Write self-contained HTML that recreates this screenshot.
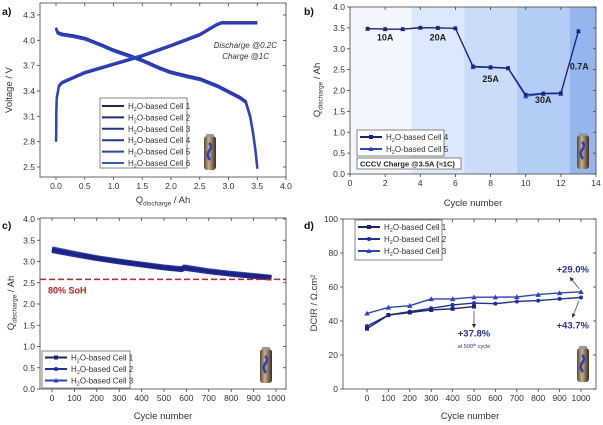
<!DOCTYPE html>
<html><head><meta charset="utf-8"><style>
html,body{margin:0;padding:0;background:#fff}
svg{display:block;font-family:"Liberation Sans",sans-serif}
</style></head><body>
<svg id="fig" width="603" height="425" viewBox="0 0 603 425" xmlns="http://www.w3.org/2000/svg">
<defs>
<linearGradient id="bat" x1="0" x2="1" y1="0" y2="0"><stop offset="0" stop-color="#5a4630"/><stop offset="0.4" stop-color="#c8b089"/><stop offset="1" stop-color="#3c2e20"/></linearGradient>
<marker id="arr" markerWidth="6" markerHeight="6" refX="3" refY="3" orient="auto"><path d="M0,0 L6,3 L0,6 z" fill="#333"/></marker>
</defs>
<g id="root"></g>
</svg>
<script>
// ---- Panel a data ----
const aDisQ=[0,0.03,0.1,0.3,0.5,0.8,1.0,1.3,1.5,1.8,2.0,2.3,2.5,2.8,3.0,3.2,3.3,3.38,3.43,3.47,3.5];
const aDisV=[4.15,4.10,4.08,4.06,4.03,3.95,3.89,3.82,3.77,3.68,3.63,3.58,3.55,3.47,3.40,3.33,3.28,3.1,2.9,2.7,2.5];
const aChQ=[0,0.01,0.05,0.1,0.3,0.5,1.0,1.5,2.0,2.5,2.8,2.88,3.5];
const aChV=[2.8,3.3,3.45,3.49,3.55,3.61,3.71,3.81,3.93,4.06,4.18,4.2,4.2];
const aXTicks=[0,0.5,1.0,1.5,2.0,2.5,3.0,3.5,4.0];
const aYTicks=[2.5,2.8,3.1,3.4,3.7,4.0,4.3];
const aLegend=["Cell 1","Cell 2","Cell 3","Cell 4","Cell 5","Cell 6"];
// ---- Panel b data ----
const bCycles=[1,2,3,4,5,6,7,8,9,10,11,12,13];
const bCell4=[3.48,3.47,3.47,3.50,3.50,3.49,2.58,2.56,2.54,1.90,1.93,1.94,3.42];
const bCell5=[3.48,3.47,3.47,3.51,3.50,3.49,2.56,2.55,2.53,1.86,1.92,1.92,3.42];
const bXTicks=[0,2,4,6,8,10,12,14];
const bYTicks=[0,0.5,1.0,1.5,2.0,2.5,3.0,3.5,4.0];
const bBands=[0,3.5,6.5,9.5,12.5,14];
const bRates=["10A","20A","25A","30A","0.7A"];
// ---- Panel c data ----
const cCycles=[0,100,200,300,400,500,580,590,700,800,900,980];
const cCell1=[3.28,3.18,3.08,3.00,2.93,2.86,2.82,2.86,2.77,2.71,2.66,2.62];
const cCell2=[3.26,3.16,3.07,2.99,2.92,2.85,2.81,2.84,2.76,2.70,2.65,2.61];
const cCell3=[3.30,3.19,3.09,3.01,2.94,2.87,2.83,2.87,2.78,2.72,2.67,2.63];
const cXTicks=[0,100,200,300,400,500,600,700,800,900,1000];
const cYTicks=[0,0.5,1.0,1.5,2.0,2.5,3.0,3.5,4.0];
const cSoH=[2.58];
// ---- Panel d data ----
const dCycles=[0,100,200,300,400,500,600,700,800,900,1000];
const dCell1=[35.5,43.5,45,46.5,47.2,48.5];
const dCell2=[37,43.5,45.5,47.5,49.5,50.5,50.2,51.5,52,53,53.8];
const dCell3=[44.5,48,49,53,53,54,54,54.2,55.5,56.5,57.2];
const dXTicks=[0,100,200,300,400,500,600,700,800,900,1000];
const dYTicks=[0,20,40,60,80,100];

const NS="http://www.w3.org/2000/svg";
const root=document.getElementById('root');
function mk(tag,attrs,parent,txt){const e=document.createElementNS(NS,tag);for(const k in attrs)e.setAttribute(k,attrs[k]);if(txt!==undefined)e.textContent=txt;(parent||root).appendChild(e);return e;}
function lin(d0,d1,r0,r1){return v=>r0+(v-d0)*(r1-r0)/(d1-d0);}
const C1="#1a237e",C2="#1c2fb0",C3="#2b42d6";

function axes(g,x,y,L,R,T,B,xt,yt,fmtx,fmty,name){
  const fr=mk('rect',{x:L,y:T,width:R-L,height:B-T,fill:'none',stroke:'#444','stroke-width':0.8},g);
  
  xt.forEach(v=>{const px=x(v);
    mk('line',{x1:px,x2:px,y1:B,y2:B+3,stroke:'#444','stroke-width':0.8},g);
    mk('line',{x1:px,x2:px,y1:T,y2:T+3,stroke:'#444','stroke-width':0.8},g);
    const t=mk('text',{x:px,y:B+12,'font-size':8.5,'text-anchor':'middle',fill:'#333'},g,fmtx(v));
    });
  yt.forEach(v=>{const py=y(v);
    mk('line',{x1:L-3,x2:L,y1:py,y2:py,stroke:'#444','stroke-width':0.8},g);
    mk('line',{x1:R,x2:R-3,y1:py,y2:py,stroke:'#444','stroke-width':0.8},g);
    const t=mk('text',{x:L-5,y:py+3,'font-size':8.5,'text-anchor':'end',fill:'#333'},g,fmty(v));
    });
}
function path(g,xs,ys,x,y,attrs,name){const d=xs.map((v,i)=>(i?'L':'M')+x(v).toFixed(1)+','+y(ys[i]).toFixed(1)).join(' ');
  const p=mk('path',Object.assign({d:d,fill:'none','stroke-linejoin':'round'},attrs),g);return p;}
function marker(g,type,px,py,col,s){
  let e;
  if(type==='sq')e=mk('rect',{x:px-s,y:py-s,width:2*s,height:2*s,fill:col},g);
  else if(type==='ci')e=mk('circle',{cx:px,cy:py,r:s,fill:col},g);
  else e=mk('path',{d:`M${px},${py-s-0.5} L${px+s+0.5},${py+s} L${px-s-0.5},${py+s} z`,fill:col},g);
  
}
function battery(g,cx,cy){
  const b=mk('g',{},g);
  mk('rect',{x:cx-6,y:cy-17,width:12,height:34,rx:3,fill:'url(#bat)'},b);
  mk('rect',{x:cx-4,y:cy-19,width:8,height:3,rx:1,fill:'#999'},b);
  mk('path',{d:`M${cx-1},${cy-10} q4,3 0,8 q-3,4 1,9`,stroke:'#2b3fc0','stroke-width':2.5,fill:'none'},b);
}
function legendItem(g,x0,y0,col,label,mtype){
  mk('line',{x1:x0,x2:x0+22,y1:y0,y2:y0,stroke:col,'stroke-width':2},g);
  if(mtype)marker(g,mtype,x0+11,y0,col,2);
  const t=mk('text',{x:x0+26,y:y0+3,'font-size':8,fill:'#333'},g);
  
  mk('tspan',{},t,'H');mk('tspan',{'font-size':5.5,dy:2},t,'2');mk('tspan',{dy:-2},t,'O-based '+label);
}
function ylab(g,x,y,main,sub,rest){
  const t=mk('text',{transform:`translate(${x},${y}) rotate(-90)`,'font-size':9.5,'text-anchor':'middle',fill:'#333'},g);
  
  mk('tspan',{},t,main);if(sub){mk('tspan',{'font-size':6.5,dy:2.5},t,sub);mk('tspan',{dy:-2.5},t,rest);}
}
function xlab(g,x,y,main,sub,rest){
  const t=mk('text',{x:x,y:y,'font-size':9.5,'text-anchor':'middle',fill:'#333'},g);
  
  mk('tspan',{},t,main);if(sub){mk('tspan',{'font-size':6.5,dy:2.5},t,sub);mk('tspan',{dy:-2.5},t,rest);}
}
function letter(g,x,y,s){const t=mk('text',{x:x,y:y,'font-size':10.5,'font-weight':'bold',fill:'#111'},g,s);}

// ===== Panel a =====
(function(){
  const g=mk('g',{});
  const L=40,R=286,T=3,B=177;
  const x=lin(0,4,56,286),y=lin(2.5,4.3,167,15);
  axes(g,x,y,L,R,T,B,aXTicks,aYTicks,v=>v.toFixed(1),v=>v.toFixed(1),'panel-a');
  ["#1f2f9e","#2536b8","#2b40cc"].forEach((c,i)=>{
    path(g,aDisQ,aDisV.map(v=>v-0.01*i),x,y,{stroke:c,'stroke-width':2.2},'discharge-curve');
    path(g,aChQ,aChV.map(v=>v+0.008*i),x,y,{stroke:c,'stroke-width':2.2},'charge-curve');
  });
  const lg=mk('g',{},g);
  mk('rect',{x:100,y:98,width:87,height:70,fill:'#fff',stroke:'#555','stroke-width':0.7},lg);
  const cols=["#1a237e","#1a2a90","#1c30a0","#1f36b0","#2a42c8","#3a55d8"];
  aLegend.forEach((l,i)=>legendItem(lg,102,106+i*11.4,cols[i],l));
  battery(g,210,153);
  mk('text',{x:277,y:48,'font-size':8,'font-style':'italic','text-anchor':'end',fill:'#333'},g,'Discharge @0.2C');
  mk('text',{x:269,y:59,'font-size':8,'font-style':'italic','text-anchor':'end',fill:'#333'},g,'Charge @1C');
  ylab(g,12,90,'Voltage / V');
  xlab(g,163,203,'Q','discharge',' / Ah');
  letter(g,2,15,'a)');
})();

// ===== Panel b =====
(function(){
  const g=mk('g',{});
  const L=350,R=596,T=7,B=174;
  const x=lin(0,14,L,R),y=lin(0,4,B,T);
  const shades=["#f2f7fe","#dce8fb","#cadcf8","#b4cdf5","#94b5ee"];
  for(let i=0;i<bBands.length-1;i++){const r=mk('rect',{x:x(bBands[i]),y:T,width:x(bBands[i+1])-x(bBands[i]),height:B-T,fill:shades[i]},g);
    }
  axes(g,x,y,L,R,T,B,bXTicks,bYTicks,v=>String(v),v=>v.toFixed(1),'panel-b');
  path(g,bCycles,bCell5,x,y,{stroke:C3,'stroke-width':1.2},'cell5-line');
  path(g,bCycles,bCell4,x,y,{stroke:C1,'stroke-width':1.2},'cell4-line');
  bCycles.forEach((c,i)=>{marker(g,'tr',x(c),y(bCell5[i]),C3,2);marker(g,'sq',x(c),y(bCell4[i]),C1,1.8);});
  const rp=[[2,3.2],[5,3.2],[8,2.2],[11,1.7],[13.05,2.5]];
  bRates.forEach((r,i)=>{const t=mk('text',{x:x(rp[i][0]),y:y(rp[i][1]),'font-size':9,'font-weight':'bold','text-anchor':'middle',fill:'#222'},g,r);});
  const lg=mk('g',{},g);
  mk('rect',{x:357,y:130,width:87,height:26,fill:'#fff',stroke:'#555','stroke-width':0.7},lg);
  legendItem(lg,360,137,C1,'Cell 4','sq');legendItem(lg,360,149,C3,'Cell 5','tr');
  mk('rect',{x:357,y:158,width:104,height:11,fill:'#fff',stroke:'#555','stroke-width':0.7},g);
  mk('text',{x:360,y:166.5,'font-size':7.5,'font-weight':'bold',fill:'#222'},g,'CCCV Charge @3.5A (≈1C)');
  battery(g,583,152);
  ylab(g,320,90,'Q','discharge',' / Ah');
  xlab(g,473,206,'Cycle number');
  letter(g,304,15,'b)');
})();

// ===== Panel c =====
(function(){
  const g=mk('g',{});
  const L=40,R=286,T=218,B=389;
  const x=lin(0,1000,52,276),y=lin(0,4,B,T+1);
  axes(g,x,y,L,R,T,B,cXTicks,cYTicks,v=>String(v),v=>v.toFixed(1),'panel-c');
  path(g,cCycles,cCell3,x,y,{stroke:C3,'stroke-width':5},'cell3-line');
  path(g,cCycles,cCell2,x,y,{stroke:C2,'stroke-width':5},'cell2-line');
  path(g,cCycles,cCell1,x,y,{stroke:C1,'stroke-width':3.5},'cell1-line');
  const s=mk('line',{x1:L,x2:R,y1:y(cSoH[0]),y2:y(cSoH[0]),stroke:'#d21f1f','stroke-width':1.5,'stroke-dasharray':'6,3'},g);
  
  mk('text',{x:48,y:y(cSoH[0])+14,'font-size':9,'font-weight':'bold',fill:'#c0201c'},g,'80% SoH');
  const lg=mk('g',{},g);
  mk('rect',{x:42,y:351,width:88,height:37,fill:'#fff',stroke:'#555','stroke-width':0.7},lg);
  legendItem(lg,45,357.5,C1,'Cell 1','sq');legendItem(lg,45,369,C2,'Cell 2','ci');legendItem(lg,45,380.5,C3,'Cell 3','tr');
  battery(g,266,366);
  ylab(g,14,303,'Q','discharge',' / Ah');
  xlab(g,163,419,'Cycle number');
  letter(g,2,229,'c)');
})();

// ===== Panel d =====
(function(){
  const g=mk('g',{});
  const L=343,R=596,T=219,B=389;
  const x=lin(0,1000,367,581),y=lin(0,100,B,T);
  axes(g,x,y,L,R,T,B,dXTicks,dYTicks,v=>String(v),v=>String(v),'panel-d');
  path(g,dCycles,dCell3,x,y,{stroke:C3,'stroke-width':1.4},'cell3-line');
  path(g,dCycles,dCell2,x,y,{stroke:C2,'stroke-width':1.4},'cell2-line');
  path(g,dCycles.slice(0,dCell1.length),dCell1,x,y,{stroke:C1,'stroke-width':1.4},'cell1-line');
  dCycles.forEach((c,i)=>{marker(g,'tr',x(c),y(dCell3[i]),C3,2.2);marker(g,'ci',x(c),y(dCell2[i]),C2,2);
    if(i<dCell1.length)marker(g,'sq',x(c),y(dCell1[i]),C1,2);});
  const lg=mk('g',{},g);
  mk('rect',{x:355,y:220,width:87,height:40,fill:'#fff',stroke:'#555','stroke-width':0.7},lg);
  legendItem(lg,358,227,C1,'Cell 1','sq');legendItem(lg,358,239,C2,'Cell 2','ci');legendItem(lg,358,251,C3,'Cell 3','tr');
  mk('line',{x1:x(500),x2:x(500),y1:y(46),y2:y(37),stroke:'#333','stroke-width':0.7,'marker-end':'url(#arr)'},g);
  mk('line',{x1:x(1000)-2,x2:x(1000)-8,y1:y(52),y2:y(43),stroke:'#333','stroke-width':0.7,'marker-end':'url(#arr)'},g);
  mk('line',{x1:x(1000)-2,x2:x(1000)-10,y1:y(59),y2:y(65),stroke:'#333','stroke-width':0.7,'marker-end':'url(#arr)'},g);
  mk('text',{x:x(500)+0,y:y(31),'font-size':9.5,'font-weight':'bold','text-anchor':'middle',fill:'#2231b8'},g,'+37.8%');
  const st=mk('text',{x:x(500)+0,y:y(24),'font-size':5.5,'text-anchor':'middle',fill:'#2231b8'},g);
  mk('tspan',{},st,'at 500');mk('tspan',{'font-size':4,dy:-2},st,'th');mk('tspan',{dy:2},st,' cycle');
  mk('text',{x:589,y:y(35.5),'font-size':9.5,'font-weight':'bold','text-anchor':'end',fill:'#2231b8'},g,'+43.7%');
  mk('text',{x:589,y:y(68.5),'font-size':9.5,'font-weight':'bold','text-anchor':'end',fill:'#2231b8'},g,'+29.0%');
  battery(g,583,365);
  ylab(g,317,303,'DCIR / Ω.cm²');
  xlab(g,470,419,'Cycle number');
  letter(g,304,229,'d)');
})();
</script>
</body></html>
